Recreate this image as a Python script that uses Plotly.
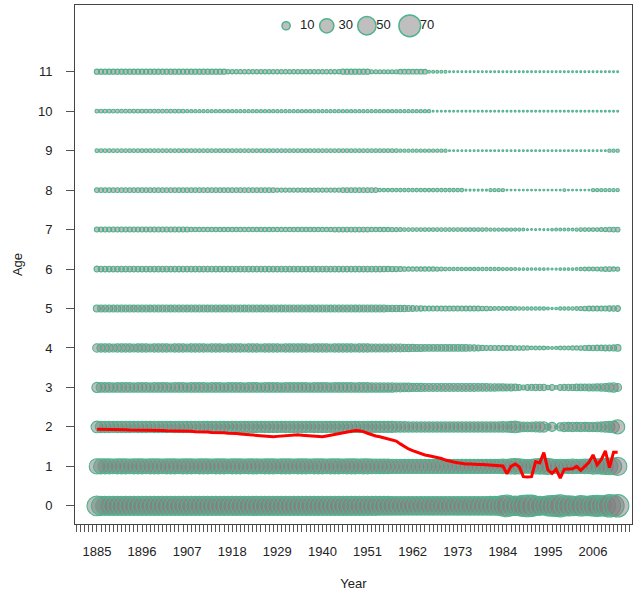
import plotly.graph_objects as go

# years on the x axis, one bubble row per age
years = list(range(1885, 2013))
ages = list(range(12))
tick_years = [1885, 1896, 1907, 1918, 1929, 1940, 1951, 1962, 1973, 1984, 1995, 2006]

# bubble values, one list per age (1885 ... 2012, ten years per line)
age0 = [58, 55, 55, 54, 55, 55, 54, 55, 55, 54,
        55, 55, 54, 55, 55, 54, 55, 55, 54, 55,
        55, 54, 55, 55, 54, 55, 55, 54, 55, 55,
        54, 55, 55, 54, 55, 55, 54, 55, 55, 54,
        55, 55, 54, 55, 55, 54, 55, 55, 54, 55,
        55, 54, 55, 55, 54, 55, 55, 54, 55, 55,
        54, 55, 55, 54, 55, 55, 54, 54, 54, 53,
        53, 53, 52, 52, 52, 51, 51, 51, 51, 51,
        51, 51, 52, 51, 51, 52, 51, 51, 52, 51,
        51, 52, 51, 52, 52, 52, 53, 53, 54, 62,
        70, 58, 56, 58, 66, 70, 68, 56, 55, 50,
        60, 64, 66, 72, 60, 60, 58, 55, 62, 58,
        58, 62, 66, 60, 64, 74, 66, 74]
age1 = [35, 33, 33, 33, 32, 33, 33, 33, 32, 33,
        33, 33, 32, 33, 33, 33, 32, 33, 33, 33,
        32, 33, 33, 33, 32, 33, 33, 33, 32, 33,
        33, 33, 32, 33, 33, 33, 32, 33, 33, 33,
        32, 33, 33, 33, 32, 33, 33, 33, 32, 33,
        33, 33, 32, 33, 33, 33, 32, 33, 33, 33,
        32, 33, 33, 33, 32, 33, 33, 32, 32, 31,
        31, 31, 30, 30, 30, 29, 29, 29, 29, 29,
        29, 29, 29, 29, 29, 29, 29, 29, 29, 29,
        29, 29, 29, 29, 30, 29, 29, 29, 30, 31,
        30, 34, 36, 34, 30, 28, 30, 34, 36, 36,
        38, 32, 28, 30, 28, 30, 32, 30, 30, 32,
        32, 36, 34, 36, 38, 42, 40, 50]
age2 = [20, 19, 19, 19, 18, 19, 19, 19, 19, 18,
        19, 19, 19, 18, 19, 19, 19, 19, 18, 19,
        19, 19, 18, 19, 19, 19, 19, 18, 19, 19,
        19, 18, 19, 19, 19, 19, 18, 19, 19, 19,
        18, 19, 19, 19, 19, 18, 19, 19, 19, 19,
        19, 19, 18, 19, 19, 19, 19, 18, 19, 19,
        19, 19, 19, 18, 19, 19, 19, 18, 18, 18,
        18, 18, 18, 17, 17, 17, 16, 16, 16, 16,
        16, 16, 16, 16, 16, 16, 16, 16, 16, 16,
        16, 16, 16, 16, 16, 16, 16, 16, 16, 17,
        16, 18, 20, 16, 14, 14, 14, 15, 16, 16,
        6, 12, 2, 10, 13, 12, 13, 12, 13, 12,
        13, 13, 14, 15, 17, 18, 20, 30]
age3 = [15, 14, 14, 14, 13, 14, 14, 14, 14, 13,
        14, 14, 14, 13, 14, 14, 14, 14, 13, 14,
        14, 14, 13, 14, 14, 14, 14, 13, 14, 14,
        14, 13, 14, 14, 14, 14, 13, 14, 14, 14,
        13, 14, 14, 14, 14, 13, 14, 14, 14, 14,
        14, 14, 13, 14, 14, 14, 14, 13, 14, 14,
        14, 14, 14, 13, 14, 14, 14, 13, 13, 13,
        13, 13, 13, 12, 12, 11, 11, 10, 10, 10,
        9, 9, 9, 9, 9, 9, 9, 9, 9, 9,
        9, 9, 9, 8.5, 8.5, 8.5, 8, 8, 7.5, 7.5,
        7, 7, 6.5, 5, 3.5, 5, 5.5, 6, 6, 6,
        3, 5, 2, 5, 5.5, 6, 6, 6.5, 6.5, 6.5,
        7, 7, 7.5, 8, 9, 12, 13, 9]
age4 = [10.5, 10, 10, 10, 9.5, 10, 10, 10, 10, 9.5,
        10, 10, 10, 9.5, 10, 10, 10, 10, 9.5, 10,
        10, 10, 9.5, 10, 10, 10, 10, 9.5, 10, 10,
        10, 9.5, 10, 10, 10, 10, 9.5, 10, 10, 10,
        9.5, 10, 10, 10, 10, 9.5, 10, 10, 10, 10,
        10, 10, 9.5, 10, 10, 10, 10, 9.5, 10, 10,
        10, 10, 10, 9.5, 10, 10, 10, 9.5, 9.5, 9.5,
        9.5, 9.5, 9, 9, 9, 8.5, 8, 7.5, 7, 7,
        6.5, 6.5, 6.5, 6.5, 6.5, 6.5, 6.5, 6.5, 6.5, 6.5,
        6.5, 6, 6, 5, 4, 3.5, 3.5, 3.5, 3.3, 3.3,
        3.3, 3.3, 3, 3, 3, 2.5, 2, 2.1, 2.1, 2.1,
        1.5, 1.2, 1.5, 2.1, 2.1, 2.1, 2.5, 2.5, 3, 3.5,
        4, 4.5, 4.8, 4.8, 5, 5, 5.5, 6.5]
age5 = [7.5, 7, 7, 7, 6.8, 7, 7, 7, 7, 6.8,
        7, 7, 7, 6.8, 7, 7, 7, 7, 6.8, 7,
        7, 7, 6.8, 7, 7, 7, 7, 6.8, 7, 7,
        7, 6.8, 7, 7, 7, 7, 6.8, 7, 7, 7,
        6.8, 7, 7, 7, 7, 6.8, 7, 7, 7, 7,
        7, 7, 6.8, 7, 7, 7, 7, 6.8, 7, 7,
        7, 7, 7, 6.8, 7, 7, 7, 7, 7, 7,
        7, 6.5, 6.5, 6.5, 6, 6, 5.5, 5, 4.5, 4,
        3.5, 3.5, 3.5, 3.5, 3.5, 3.5, 3.5, 3.5, 3.5, 3.5,
        3.3, 3.3, 3.3, 3.3, 3, 3, 2.5, 2.1, 2.1, 2.1,
        2.1, 2, 2, 1.8, 1.8, 1.6, 1.6, 1.6, 1.6, 1.6,
        1.2, 0.8, 1, 1.6, 1.6, 1.6, 1.8, 2, 2.5, 3,
        3.3, 3.3, 3.3, 3.3, 3.5, 4, 4.5, 4.8]
age6 = [5, 4.8, 4.8, 4.8, 4.6, 4.8, 4.8, 4.8, 4.8, 4.6,
        4.8, 4.8, 4.8, 4.6, 4.8, 4.8, 4.8, 4.8, 4.6, 4.8,
        4.8, 4.8, 4.6, 4.8, 4.8, 4.8, 4.8, 4.6, 4.8, 4.8,
        4.8, 4.6, 4.8, 4.8, 4.8, 4.8, 4.6, 4.8, 4.8, 4.8,
        4.6, 4.8, 4.8, 4.8, 4.8, 4.6, 4.8, 4.8, 4.8, 4.8,
        4.8, 4.8, 4.6, 4.8, 4.8, 4.8, 4.8, 4.6, 4.8, 4.8,
        4.8, 4.8, 4.8, 4.6, 4.8, 4.8, 4.8, 4.6, 4.6, 4.6,
        4.5, 4.2, 4, 4, 3.5, 3, 2.8, 2.7, 2.7, 2.7,
        2.7, 2.7, 2.7, 2.5, 2.3, 2, 1.8, 1.6, 1.6, 1.6,
        1.6, 1.6, 1.6, 1.6, 1.6, 1.6, 1.6, 1.6, 1.6, 1.5,
        1.5, 1.4, 1.3, 1, 1, 1, 0.9, 0.9, 1, 1,
        0.8, 0.6, 0.7, 1, 1, 1, 1.1, 1.2, 1.6, 2.1,
        2.1, 2.1, 2.3, 2.5, 3.3, 3.3, 2.8, 2.5]
age7 = [3.7, 3.7, 3.7, 3.7, 3.7, 3.7, 3.7, 3.7, 3.7, 3.7,
        3.7, 3.7, 3.7, 3.7, 3.7, 3.7, 3.7, 3.7, 3.7, 3.7,
        3.7, 3.7, 3.7, 2.9, 2.9, 2.9, 2.9, 2.9, 2.9, 2.9,
        2.9, 2.9, 2.9, 2.9, 2.9, 2.9, 2.9, 2.9, 2.9, 2.9,
        2.9, 2.9, 2.9, 2.9, 2.9, 2.9, 2.9, 2.9, 2.9, 2.9,
        2.9, 2.9, 2.9, 2.9, 2.9, 2.9, 2.9, 2.9, 3.2, 3.2,
        3.2, 3.2, 3.2, 3.2, 3.2, 3.2, 3.2, 2.9, 2.9, 2.9,
        2.9, 2.8, 2.7, 2.5, 2.3, 2.1, 2.1, 2.1, 2.1, 2.1,
        2.1, 2.1, 2.1, 2.1, 2.1, 2.1, 2.1, 2.1, 2.1, 2.1,
        2.1, 2.1, 2, 2, 2, 1.8, 1.6, 1.6, 1.6, 1.6,
        1.6, 1.6, 1.5, 1.4, 1.2, 0.6, 0.5, 0.6, 0.5, 0.6,
        0.6, 1, 1.2, 1.2, 1.2, 1.2, 1.2, 1.6, 2, 2.1,
        2.1, 2.1, 2.1, 2.3, 2.5, 3, 3.3, 3.3]
age8 = [3.3, 3.3, 3.3, 3.3, 3.3, 3.3, 3.3, 3.3, 3.3, 3.3,
        3.3, 3.3, 3.3, 3.3, 3.3, 3.3, 3.3, 3.3, 3.3, 3.3,
        3.3, 3.3, 3.3, 3.3, 3.3, 3.3, 3.3, 3.3, 3.3, 3.3,
        3.3, 3.3, 3.3, 3.3, 3.3, 3.3, 3.3, 3.3, 3.3, 3.3,
        3.3, 3.3, 3.3, 3.3, 2.7, 2.7, 2.7, 2.7, 2.7, 2.7,
        2.7, 2.7, 2.7, 2.7, 2.7, 2.7, 2.7, 2.7, 2.7, 2.7,
        3.3, 3.3, 3.3, 3.3, 3.3, 3.3, 3.3, 3.3, 3.3, 1.8,
        1.8, 1.8, 1.8, 1.8, 1.8, 1.8, 1.8, 1.8, 1.8, 1.8,
        1.8, 1.8, 1.8, 1.8, 1.8, 1.8, 1.8, 1.8, 1.8, 1.8,
        0.6, 0.6, 0.6, 0.6, 0.6, 0.6, 1.6, 1.6, 1.6, 1.6,
        0.5, 0.5, 0.5, 0.5, 0.5, 0.5, 0.5, 0.5, 0.5, 0.5,
        0.5, 0.5, 0.5, 0.5, 1.2, 0.5, 0.5, 0.5, 0.5, 0.5,
        0.5, 1.6, 1.6, 1.6, 1.6, 1.6, 1.6, 1.6]
age9 = [2.1, 2.1, 2.1, 2.1, 2.1, 2.1, 2.1, 2.1, 2.1, 2.1,
        2.1, 2.1, 2.1, 2.1, 2.1, 2.1, 2.1, 2.1, 2.1, 2.1,
        2.1, 2.1, 2.1, 2.1, 2.1, 2.1, 2.1, 2.1, 2.1, 2.1,
        2.1, 2.1, 2.1, 2.1, 2.1, 2.1, 2.1, 2.1, 2.1, 2.1,
        2.1, 2.1, 2.1, 2.1, 2.1, 2.1, 2.1, 2.1, 2.1, 2.1,
        2.1, 2.1, 2.1, 2.1, 2.1, 2.1, 2.1, 2.1, 2.1, 2.1,
        2.1, 2.1, 2.1, 2.1, 2.1, 2.1, 2.1, 2.1, 2.1, 2.1,
        2.1, 2.1, 2.1, 2.1, 1.6, 1.6, 1.6, 1.6, 1.6, 1.6,
        1.6, 1.6, 1.6, 1.6, 1.6, 1.6, 0.5, 0.5, 0.5, 0.5,
        0.5, 0.5, 0.5, 0.5, 0.5, 0.5, 0.5, 0.5, 0.5, 0.5,
        0.5, 0.5, 0.5, 0.5, 0.5, 0.5, 0.5, 0.5, 0.5, 0.5,
        0.5, 0.5, 0.5, 0.5, 0.5, 0.5, 0.5, 0.5, 0.5, 0.5,
        0.5, 0.5, 0.5, 0.5, 0.5, 1.6, 1.6, 1.6]
age10 = [2.1, 2.1, 2.1, 2.1, 2.1, 2.1, 2.1, 2.1, 2.1, 2.1,
         2.1, 2.1, 2.1, 2.1, 2.1, 2.1, 2.1, 2.1, 2.1, 2.1,
         2.1, 2.1, 1.6, 1.6, 1.6, 1.6, 1.6, 1.6, 1.6, 1.6,
         1.6, 1.6, 1.6, 1.6, 1.6, 1.6, 1.6, 1.6, 1.6, 1.6,
         1.6, 1.6, 1.6, 1.6, 1.6, 1.6, 1.6, 1.6, 1.6, 1.6,
         1.6, 1.6, 1.6, 1.6, 1.6, 1.6, 1.6, 1.6, 1.6, 1.6,
         1.6, 1.6, 1.6, 1.6, 1.6, 1.6, 1.6, 1.6, 1.6, 1.6,
         1.6, 1.6, 1.6, 1.6, 1.6, 1.6, 1.6, 1.6, 1.6, 1.6,
         1.6, 1.6, 0.5, 0.5, 0.5, 0.5, 0.5, 0.5, 0.5, 0.5,
         0.5, 0.5, 0.5, 0.5, 0.5, 0.5, 0.5, 0.5, 0.5, 0.5,
         0.5, 0.5, 0.5, 0.5, 0.5, 0.5, 0.5, 0.5, 0.5, 0.5,
         0.5, 0.5, 0.5, 0.5, 0.5, 0.5, 0.5, 0.5, 0.5, 0.5,
         0.5, 0.5, 0.5, 0.5, 0.5, 0.5, 0.5, 0.5]
age11 = [4, 4, 4, 4, 4, 4, 4, 4, 4, 4,
         4, 4, 4, 4, 4, 4, 4, 4, 4, 4,
         4, 4, 4, 4, 4, 4, 4, 4, 4, 4,
         4, 4, 2.7, 2.7, 2.7, 2.7, 2.7, 2.7, 2.7, 2.7,
         2.7, 2.7, 2.7, 2.7, 2.7, 2.7, 2.7, 2.7, 2.7, 2.7,
         2.7, 2.7, 2.7, 2.7, 2.7, 2.7, 2.7, 2.7, 2.7, 2.7,
         4, 4, 4, 4, 4, 4, 4, 2.4, 2.4, 2.4,
         2.4, 2.4, 2.4, 2.4, 3.3, 3.3, 3.3, 3.3, 3.3, 3.3,
         3.3, 1.2, 1.2, 1.2, 1.2, 1.2, 0.5, 0.5, 0.5, 0.5,
         0.5, 0.5, 0.5, 0.5, 0.5, 0.5, 0.5, 0.5, 0.5, 0.5,
         0.5, 0.5, 0.5, 0.5, 0.5, 0.5, 0.5, 0.5, 0.5, 0.5,
         0.5, 0.5, 0.5, 0.5, 0.5, 0.5, 0.5, 0.5, 0.5, 0.5,
         0.5, 0.5, 0.5, 0.5, 0.5, 0.5, 0.5, 0.5]

# red line (mean age per year)
mean_age = [1.94, 1.94, 1.94, 1.93, 1.93, 1.93, 1.93, 1.93, 1.92, 1.92,
            1.92, 1.92, 1.92, 1.91, 1.91, 1.91, 1.91, 1.90, 1.90, 1.90,
            1.90, 1.89, 1.89, 1.89, 1.88, 1.88, 1.87, 1.87, 1.86, 1.86,
            1.85, 1.85, 1.84, 1.84, 1.83, 1.82, 1.81, 1.80, 1.79, 1.78,
            1.77, 1.76, 1.76, 1.75, 1.76, 1.77, 1.78, 1.79, 1.80, 1.80,
            1.79, 1.78, 1.77, 1.76, 1.76, 1.75, 1.77, 1.79, 1.82, 1.84,
            1.86, 1.88, 1.90, 1.91, 1.90, 1.88, 1.84, 1.80, 1.77, 1.75,
            1.72, 1.70, 1.68, 1.64, 1.57, 1.50, 1.44, 1.40, 1.36, 1.32,
            1.29, 1.27, 1.25, 1.23, 1.20, 1.16, 1.13, 1.11, 1.09, 1.07,
            1.06, 1.06, 1.05, 1.05, 1.05, 1.04, 1.04, 1.03, 1.02, 1.01,
            0.81, 1.00, 1.06, 0.99, 0.74, 0.73, 0.74, 1.12, 1.09, 1.35,
            0.91, 0.82, 0.93, 0.70, 0.93, 0.93, 0.94, 1.00, 0.90, 1.00,
            1.10, 1.29, 1.04, 1.17, 1.39, 0.97, 1.36, 1.36]

# size key at the top of the panel
key_values = [10, 30, 50, 70]
key_labels = ["10", "30", "50", "70"]

age_rows = [age0, age1, age2, age3, age4, age5, age6, age7, age8, age9, age10, age11]
bx, by, bs = [], [], []
for a, row in zip(ages, age_rows):
    bx += years
    by += [a] * len(years)
    bs += row

font = "Liberation Sans, Arial, sans-serif"
fill = "rgba(128,128,128,0.5)"
edge = "#4FB38D"
SREF = 0.296

fig = go.Figure()
fig.add_trace(go.Scatter(
    x=bx, y=by, mode="markers",
    marker=dict(size=bs, sizemode="area", sizeref=SREF, color=fill, opacity=1,
                line=dict(color=edge, width=1.1)),
    showlegend=False, hoverinfo="skip"))
fig.add_trace(go.Scatter(
    x=years, y=mean_age, mode="lines",
    line=dict(color="#ff0000", width=3),
    showlegend=False))
# key circles and their labels, placed in panel fractions on an overlay axis
fig.add_trace(go.Scatter(
    x=[0.379, 0.452, 0.524, 0.601], y=[0.96] * 4,
    xaxis="x2", yaxis="y2", mode="markers",
    marker=dict(size=key_values, sizemode="area", sizeref=SREF, opacity=1,
                color=fill, line=dict(color=edge, width=1.5)),
    showlegend=False, hoverinfo="skip"))
fig.add_trace(go.Scatter(
    x=[0.404, 0.473, 0.541, 0.619], y=[0.96] * 4,
    xaxis="x2", yaxis="y2", mode="text", text=key_labels,
    textposition="middle right",
    textfont=dict(family=font, size=13, color="#222"),
    showlegend=False, hoverinfo="skip"))

axis_common = dict(showline=True, mirror=True, linecolor="#444", linewidth=1,
                   showgrid=False, zeroline=False, ticks="outside",
                   tickcolor="#555", tickfont=dict(family=font, size=13, color="#222"))

fig.update_layout(
    width=637, height=594,
    margin=dict(l=75, r=5, t=5, b=70),
    plot_bgcolor="white", paper_bgcolor="white",
    xaxis=dict(axis_common, range=[1879.66, 2015.5], tickvals=tick_years,
               ticklen=7, ticklabelstandoff=8,
               minor=dict(dtick=1, tick0=1885, ticks="outside", ticklen=7, tickcolor="#555"),
               title=dict(text="Year", font=dict(family=font, size=13, color="#222"), standoff=21)),
    yaxis=dict(axis_common, range=[-0.46, 12.69], tickvals=ages,
               ticklen=8, ticklabelstandoff=11,
               title=dict(text="Age", font=dict(family=font, size=13, color="#222"), standoff=12)),
    xaxis2=dict(overlaying="x", range=[0, 1], visible=False),
    yaxis2=dict(overlaying="y", range=[0, 1], visible=False),
)

# page margin off so the 637x594 figure fills the window
fig.write_html("out.html", config={"displayModeBar": False},
               post_script="document.body.style.margin='0';")
